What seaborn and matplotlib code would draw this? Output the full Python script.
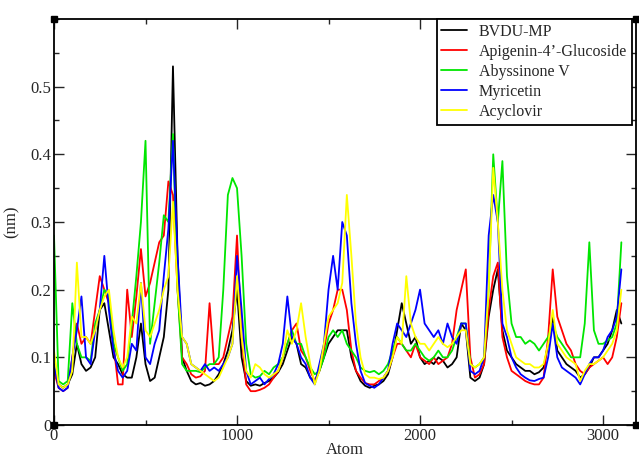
import matplotlib
matplotlib.use("Agg")
import matplotlib.pyplot as plt
import numpy as np
import pandas as pd
import seaborn as sns
from matplotlib.ticker import FuncFormatter, MultipleLocator

# atom index, every 25 atoms from 0 to 3100
atoms = list(range(0, 3101, 25))

names = ["BVDU-MP", "Apigenin-4\u2019-Glucoside", "Abyssinone V", "Myricetin", "Acyclovir"]
colours = ["#000000", "#ff0000", "#00e600", "#0000ff", "#ffff00"]

bvdu = [
    0.08, 0.06, 0.055, 0.06, 0.075, 0.12, 0.09, 0.08, 0.085, 0.10,
    0.17, 0.18, 0.14, 0.10, 0.09, 0.075, 0.07, 0.07, 0.10, 0.15,
    0.09, 0.065, 0.07, 0.10, 0.13, 0.20, 0.53, 0.25, 0.10, 0.08,
    0.065, 0.06, 0.062, 0.058, 0.06, 0.065, 0.075, 0.09, 0.11, 0.14,
    0.20, 0.10, 0.065, 0.058, 0.06, 0.058, 0.062, 0.065, 0.07, 0.078,
    0.09, 0.11, 0.13, 0.12, 0.09, 0.085, 0.07, 0.065, 0.08, 0.10,
    0.12, 0.13, 0.14, 0.14, 0.14, 0.10, 0.08, 0.065, 0.058, 0.055,
    0.058, 0.06, 0.065, 0.075, 0.10, 0.14, 0.18, 0.15, 0.12, 0.13,
    0.10, 0.09, 0.095, 0.09, 0.10, 0.095, 0.085, 0.09, 0.10, 0.15,
    0.14, 0.07, 0.065, 0.07, 0.09, 0.16, 0.20, 0.23, 0.14, 0.11,
    0.10, 0.09, 0.085, 0.08, 0.08, 0.075, 0.078, 0.085, 0.12, 0.16,
    0.11, 0.10, 0.09, 0.085, 0.08, 0.07, 0.075, 0.085, 0.10, 0.10,
    0.11, 0.12, 0.14, 0.17, 0.15,
]
apigenin = [
    0.08, 0.055, 0.05, 0.055, 0.10, 0.15, 0.12, 0.13, 0.12, 0.17,
    0.22, 0.20, 0.18, 0.12, 0.06, 0.06, 0.20, 0.13, 0.19, 0.26,
    0.19, 0.21, 0.24, 0.27, 0.28, 0.36, 0.34, 0.20, 0.10, 0.09,
    0.075, 0.07, 0.072, 0.08, 0.18, 0.09, 0.09, 0.10, 0.13, 0.16,
    0.28, 0.13, 0.06, 0.05, 0.05, 0.052, 0.055, 0.06, 0.07, 0.08,
    0.10, 0.12, 0.14, 0.15, 0.11, 0.10, 0.08, 0.065, 0.08, 0.11,
    0.15, 0.17, 0.20, 0.20, 0.17, 0.11, 0.08, 0.07, 0.062, 0.06,
    0.06, 0.065, 0.07, 0.08, 0.10, 0.12, 0.12, 0.11, 0.10, 0.12,
    0.10, 0.095, 0.09, 0.10, 0.09, 0.095, 0.10, 0.12, 0.17, 0.20,
    0.23, 0.10, 0.07, 0.075, 0.09, 0.17, 0.22, 0.24, 0.13, 0.10,
    0.08, 0.075, 0.07, 0.065, 0.062, 0.06, 0.06, 0.07, 0.13, 0.23,
    0.16, 0.14, 0.12, 0.11, 0.09, 0.08, 0.075, 0.085, 0.09, 0.095,
    0.10, 0.09, 0.10, 0.13, 0.18,
]
abyssinone = [
    0.28, 0.065, 0.06, 0.065, 0.18, 0.12, 0.10, 0.10, 0.095, 0.15,
    0.17, 0.20, 0.19, 0.12, 0.10, 0.08, 0.09, 0.15, 0.22, 0.30,
    0.42, 0.12, 0.18, 0.24, 0.31, 0.30, 0.43, 0.20, 0.09, 0.08,
    0.08, 0.08, 0.078, 0.085, 0.09, 0.09, 0.10, 0.20, 0.34, 0.365,
    0.35, 0.25, 0.12, 0.075, 0.07, 0.072, 0.08, 0.075, 0.085, 0.09,
    0.10, 0.12, 0.14, 0.12, 0.12, 0.10, 0.085, 0.075, 0.08, 0.10,
    0.13, 0.14, 0.13, 0.14, 0.12, 0.11, 0.10, 0.085, 0.08, 0.078,
    0.08, 0.075, 0.08, 0.09, 0.11, 0.13, 0.12, 0.11, 0.11, 0.12,
    0.11, 0.10, 0.095, 0.10, 0.11, 0.10, 0.10, 0.11, 0.13, 0.15,
    0.15, 0.09, 0.085, 0.09, 0.10, 0.20, 0.40, 0.30, 0.39, 0.22,
    0.15, 0.13, 0.13, 0.12, 0.125, 0.12, 0.11, 0.12, 0.13, 0.15,
    0.13, 0.12, 0.11, 0.10, 0.10, 0.10, 0.15, 0.27, 0.14, 0.12,
    0.12, 0.125, 0.13, 0.15, 0.27,
]
myricetin = [
    0.09, 0.055, 0.05, 0.055, 0.10, 0.14, 0.19, 0.10, 0.09, 0.14,
    0.17, 0.25, 0.17, 0.11, 0.08, 0.07, 0.08, 0.12, 0.11, 0.21,
    0.10, 0.09, 0.12, 0.14, 0.22, 0.29, 0.42, 0.25, 0.13, 0.12,
    0.09, 0.085, 0.08, 0.09, 0.08, 0.085, 0.08, 0.09, 0.10, 0.12,
    0.25, 0.17, 0.08, 0.06, 0.065, 0.07, 0.06, 0.068, 0.075, 0.09,
    0.12, 0.19, 0.13, 0.12, 0.10, 0.09, 0.07, 0.06, 0.09, 0.12,
    0.20, 0.25, 0.20, 0.30, 0.28, 0.18, 0.12, 0.08, 0.062, 0.058,
    0.055, 0.06, 0.07, 0.08, 0.12, 0.15, 0.14, 0.13, 0.15, 0.17,
    0.20, 0.15, 0.14, 0.13, 0.14, 0.12, 0.15, 0.13, 0.12, 0.15,
    0.15, 0.08, 0.075, 0.08, 0.10, 0.28, 0.34, 0.30, 0.15, 0.13,
    0.10, 0.085, 0.075, 0.07, 0.066, 0.065, 0.068, 0.07, 0.10, 0.15,
    0.10, 0.085, 0.08, 0.075, 0.07, 0.06, 0.075, 0.09, 0.10, 0.10,
    0.11, 0.13, 0.14, 0.16, 0.23,
]
acyclovir = [
    0.11, 0.06, 0.055, 0.06, 0.08, 0.24, 0.13, 0.13, 0.12, 0.14,
    0.17, 0.19, 0.20, 0.14, 0.10, 0.085, 0.10, 0.16, 0.15, 0.21,
    0.14, 0.13, 0.15, 0.17, 0.20, 0.22, 0.33, 0.20, 0.13, 0.12,
    0.09, 0.085, 0.08, 0.075, 0.07, 0.065, 0.07, 0.085, 0.10, 0.12,
    0.22, 0.13, 0.08, 0.07, 0.09, 0.085, 0.075, 0.07, 0.075, 0.08,
    0.10, 0.14, 0.12, 0.14, 0.18, 0.13, 0.09, 0.06, 0.08, 0.12,
    0.16, 0.17, 0.18, 0.21, 0.34, 0.25, 0.15, 0.10, 0.075, 0.07,
    0.07, 0.068, 0.07, 0.08, 0.10, 0.13, 0.12, 0.22, 0.15, 0.13,
    0.12, 0.12, 0.11, 0.12, 0.13, 0.12, 0.115, 0.12, 0.13, 0.14,
    0.14, 0.09, 0.085, 0.09, 0.10, 0.20, 0.38, 0.30, 0.20, 0.14,
    0.12, 0.10, 0.095, 0.09, 0.09, 0.085, 0.085, 0.09, 0.12, 0.17,
    0.12, 0.11, 0.10, 0.095, 0.09, 0.065, 0.08, 0.09, 0.09, 0.095,
    0.10, 0.11, 0.12, 0.14, 0.20,
]

series = [bvdu, apigenin, abyssinone, myricetin, acyclovir]
df = pd.concat(
    [pd.DataFrame({"Atom": atoms, "rmsf": vals, "ligand": n}) for n, vals in zip(names, series)],
    ignore_index=True,
)

sns.set_style("ticks")
plt.rcParams["font.family"] = ["Liberation Serif", "DejaVu Serif"]

fig = plt.figure(figsize=(6.39, 4.59), dpi=100)
ax = fig.add_axes([54 / 639, 34 / 459, 582 / 639, 406 / 459])

sns.lineplot(data=df, x="Atom", y="rmsf", hue="ligand", hue_order=names,
             palette=colours, linewidth=1.3, ax=ax)

ax.set_xlim(0, 3180)
ax.set_ylim(0, 0.6)
ax.set_yticks([0, 0.1, 0.2, 0.3, 0.4, 0.5])
ax.set_xticks([0, 1000, 2000, 3000])
ax.xaxis.set_minor_locator(MultipleLocator(500))
ax.yaxis.set_minor_locator(MultipleLocator(0.05))
ax.yaxis.set_major_formatter(FuncFormatter(lambda v, p: f"{v:g}"))
ax.tick_params(which="both", direction="in", top=True, right=True, labelsize=12, width=1.0)
ax.tick_params(which="major", length=7, pad=2)
ax.tick_params(which="minor", length=3.5)
for s in ax.spines.values():
    s.set_linewidth(1.3)
    s.set_color("black")

ax.set_xlabel("Atom", fontsize=12, labelpad=-1)
ax.set_ylabel("(nm)", fontsize=12, labelpad=8)

# corner handles like the exported picture
ax.plot([0, 0, 1, 1], [0, 1, 0, 1], "s", color="black", ms=4, transform=ax.transAxes, clip_on=False)

leg = ax.legend(loc="upper right", bbox_to_anchor=(0.993, 1.0), fontsize=11.5, frameon=True,
                fancybox=False, handlelength=1.6, handletextpad=0.75, labelspacing=0.25,
                borderpad=0.3, borderaxespad=0)
leg.get_frame().set_edgecolor("black")
leg.get_frame().set_linewidth(1.3)
leg.get_frame().set_alpha(1)

fig.savefig("out.png", dpi=100)
